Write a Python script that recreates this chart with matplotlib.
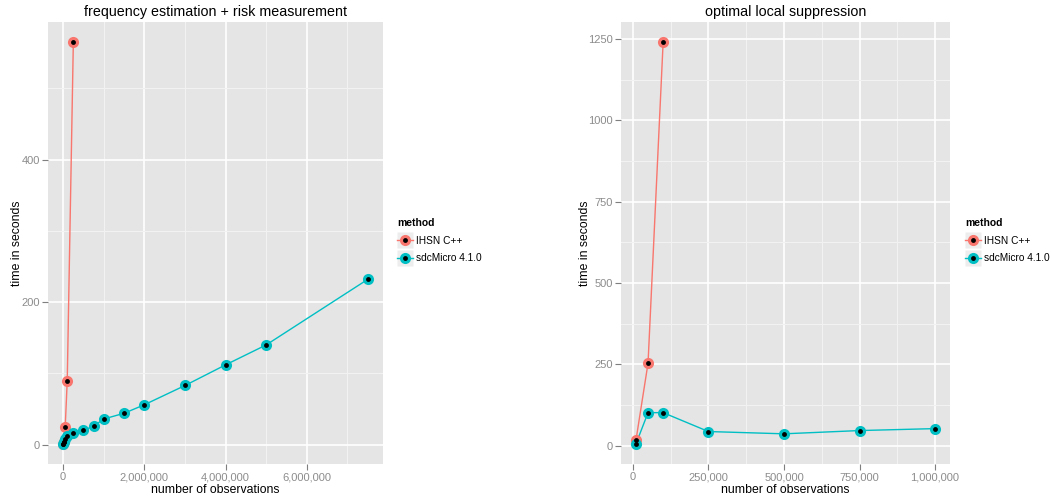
import numpy as np
import matplotlib
matplotlib.use('Agg')
import matplotlib.pyplot as plt
from matplotlib.ticker import FuncFormatter, MultipleLocator

plt.rcParams['font.family'] = ['Liberation Sans', 'DejaVu Sans']

# frequency estimation + risk measurement
freq_ihsn_n = [1000, 10000, 50000, 100000, 250000]
freq_ihsn_t = [1, 3, 25, 90, 565]
freq_sdc_n = [1000, 10000, 50000, 100000, 250000, 500000, 750000, 1000000,
              1500000, 2000000, 3000000, 4000000, 5000000, 7500000]
freq_sdc_t = [1, 4, 8, 12, 16, 20, 26, 36, 44, 56, 83, 112, 140, 232]

# optimal local suppression
supp_ihsn_n = [10000, 50000, 100000]
supp_ihsn_t = [17, 254, 1240]
supp_sdc_n = [10000, 50000, 100000, 250000, 500000, 750000, 1000000]
supp_sdc_t = [6, 102, 102, 44, 37, 47, 53]

methods = ['IHSN C++', 'sdcMicro 4.1.0']
colors = ['#F8766D', '#00BFC4']

W, H = 1051, 496
fig = plt.figure(figsize=(W / 100, H / 100), dpi=100)


def comma(x, pos):
    return '{:,.0f}'.format(x)


def make_panel(rect, title, series, xmaj, ymaj, legend_pos, ylab_x):
    ax = fig.add_axes(rect)
    ax.set_facecolor('#E5E5E5')
    for s in ax.spines.values():
        s.set_visible(False)
    handles = []
    for (xs, ys), col, lab in zip(series, colors, methods):
        ax.plot(xs, ys, color=col, lw=1.0, zorder=3)
        ax.plot(xs, ys, 'o', ms=8, color=col, mec='none', zorder=4)
        ax.plot(xs, ys, 'o', ms=3.5, color='black', mec='none', zorder=5)
        bg = plt.Line2D([], [], ls='none', marker='s', ms=12, color='#EDEDED', mec='none')
        h1 = plt.Line2D([], [], color=col, lw=1.0, marker='o', ms=8, mec='none')
        h2 = plt.Line2D([], [], ls='none', marker='o', ms=3.5, color='black', mec='none')
        handles.append((bg, h1, h2))
    ax.margins(0.05)
    ax.xaxis.set_major_locator(MultipleLocator(xmaj))
    ax.xaxis.set_minor_locator(MultipleLocator(xmaj / 2))
    ax.yaxis.set_major_locator(MultipleLocator(ymaj))
    ax.yaxis.set_minor_locator(MultipleLocator(ymaj / 2))
    ax.xaxis.set_major_formatter(FuncFormatter(comma))
    ax.grid(which='minor', color='#F2F2F2', lw=0.8, zorder=0)
    ax.grid(which='major', color='white', lw=1.2, zorder=1)
    ax.set_axisbelow(True)
    ax.tick_params(which='major', length=4, width=0.8, color='#7F7F7F',
                   labelcolor='#8C8C8C', labelsize=8, pad=2)
    ax.tick_params(which='minor', length=0)
    ax.set_title(title, fontsize=10.3, pad=4)
    ax.set_xlabel('number of observations', fontsize=8.8, labelpad=1)
    ax.set_ylabel('time in seconds', fontsize=8.8)
    ax.yaxis.set_label_coords(ylab_x, 0.5)
    leg = fig.legend(handles, methods, loc='upper left',
                     bbox_to_anchor=legend_pos, bbox_transform=fig.transFigure,
                     title='method', frameon=False, fontsize=7.3,
                     handlelength=1.6, handletextpad=0.3, labelspacing=0.75,
                     borderaxespad=0, borderpad=0)
    leg.get_title().set_fontweight('bold')
    leg.get_title().set_fontsize(7.5)
    leg._legend_box.align = 'left'
    return ax


make_panel([48 / W, 1 - 464 / H, 335 / W, 442 / H],
           'frequency estimation + risk measurement',
           [(freq_ihsn_n, freq_ihsn_t), (freq_sdc_n, freq_sdc_t)],
           2000000, 200, (397 / W, 1 - 218 / H), -0.075)
make_panel([621 / W, 1 - 464 / H, 329 / W, 442 / H],
           'optimal local suppression',
           [(supp_ihsn_n, supp_ihsn_t), (supp_sdc_n, supp_sdc_t)],
           250000, 250, (965 / W, 1 - 218 / H), -0.092)

fig.savefig('out.png', dpi=100)
